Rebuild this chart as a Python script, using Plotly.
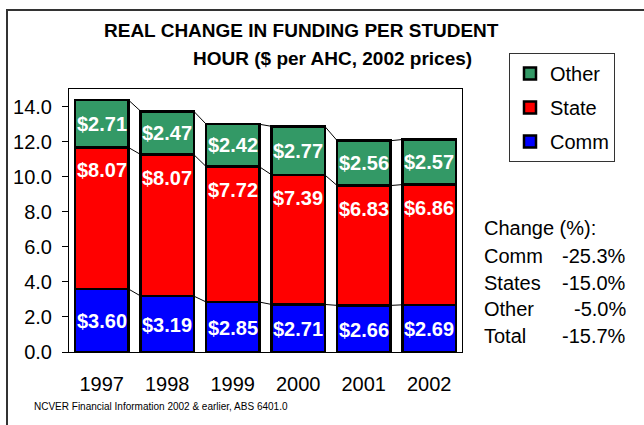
import plotly.graph_objects as go

years = ["1997", "1998", "1999", "2000", "2001", "2002"]
comm = [3.60, 3.19, 2.85, 2.71, 2.66, 2.69]
state = [8.07, 8.07, 7.72, 7.39, 6.83, 6.86]
other = [2.71, 2.47, 2.42, 2.77, 2.56, 2.57]
change_labels = ["Change (%):", "Comm", "States", "Other", "Total"]
change_values = ["", "-25.3%", "-15.0%", "-5.0%", "-15.7%"]

FONT = "Liberation Sans, Arial, sans-serif"
W, H = 644, 425
L, R, T, B = 69, 182, 89, 73
PW, PH = W - L - R, H - T - B

def px_x(x):
    return (x - L) / PW

def px_y(y):
    return (H - B - y) / PH

xs = list(range(len(years)))
bw = 0.81
c1 = comm
c2 = [a + b for a, b in zip(comm, state)]
c3 = [a + b + c for a, b, c in zip(comm, state, other)]

fig = go.Figure()
series = [("Comm", comm, "#0000FF", "g1", 3), ("State", state, "#FF0000", "g2", 2), ("Other", other, "#339966", "g3", 1)]
for name, vals, col, grp, rank in series:
    fig.add_trace(go.Bar(
        x=xs, y=vals, name=name, width=bw, legendgroup=grp, legendrank=rank,
        marker=dict(color=col, line=dict(color="black", width=2.5)),
        hoverinfo="skip",
    ))

# series lines connecting bars
for cum in (c1, c2, c3):
    lx, ly = [], []
    for i in range(len(xs) - 1):
        lx += [xs[i] + bw / 2, xs[i + 1] - bw / 2, None]
        ly += [cum[i], cum[i + 1], None]
    fig.add_trace(go.Scatter(x=lx, y=ly, mode="lines", line=dict(color="black", width=1),
                             showlegend=False, hoverinfo="skip"))

ann = []
lblfont = dict(family=FONT, size=20, color="white")
for i in xs:
    ann.append(dict(x=xs[i], y=comm[i] / 2, xref="x", yref="y", text="<b>$%.2f</b>" % comm[i],
                    showarrow=False, font=lblfont, yshift=-1))
    ann.append(dict(x=xs[i], y=c2[i], xref="x", yref="y", text="<b>$%.2f</b>" % state[i],
                    showarrow=False, font=lblfont, yshift=-23))
    ann.append(dict(x=xs[i], y=c2[i] + other[i] / 2, xref="x", yref="y", text="<b>$%.2f</b>" % other[i],
                    showarrow=False, font=lblfont))

# title lines
ann.append(dict(x=px_x(301), y=px_y(31), xref="paper", yref="paper", text="<b>REAL CHANGE IN FUNDING PER STUDENT</b>",
                showarrow=False, font=dict(family=FONT, size=19, color="black"), xanchor="center", yanchor="middle"))
ann.append(dict(x=px_x(332), y=px_y(59), xref="paper", yref="paper", text="<b>HOUR ($ per AHC, 2002 prices)</b>",
                showarrow=False, font=dict(family=FONT, size=19, color="black"), xanchor="center", yanchor="middle"))

# change table
ys_tab = [228, 256, 283, 309, 336]
for lab, val, yy in zip(change_labels, change_values, ys_tab):
    ann.append(dict(x=px_x(482), y=px_y(yy), xref="paper", yref="paper", text=lab, showarrow=False,
                    font=dict(family=FONT, size=20, color="black"), xanchor="left", yanchor="middle"))
    if val:
        ann.append(dict(x=px_x(628), y=px_y(yy), xref="paper", yref="paper", text=val, showarrow=False,
                        font=dict(family=FONT, size=20, color="black"), xanchor="right", yanchor="middle"))

ann.append(dict(x=px_x(32), y=px_y(406), xref="paper", yref="paper",
                text="NCVER Financial Information 2002 &amp; earlier, ABS 6401.0", showarrow=False,
                font=dict(family=FONT, size=10, color="black"), xanchor="left", yanchor="middle"))

shapes = [dict(type="rect", xref="paper", yref="paper", x0=px_x(7), y0=px_y(440), x1=px_x(660), y1=px_y(10),
               line=dict(color="#333333", width=2), layer="below")]

fig.update_layout(
    width=W, height=H,
    margin=dict(l=L, r=R, t=T, b=B, autoexpand=False),
    paper_bgcolor="white", plot_bgcolor="white",
    barmode="stack",
    font=dict(family=FONT, size=20, color="black"),
    showlegend=True,
    legend=dict(x=px_x(509), y=px_y(53), xanchor="left", yanchor="top",
                traceorder="grouped", tracegroupgap=5,
                bordercolor="#333333", borderwidth=1, bgcolor="white",
                font=dict(family=FONT, size=20, color="black"), itemwidth=30),
    xaxis=dict(range=[-0.5, 5.5], tickvals=xs, ticktext=years, showgrid=False, zeroline=False,
               showline=True, linecolor="black", linewidth=1, mirror=True, ticks="",
               ticklabelstandoff=14, tickfont=dict(size=20)),
    yaxis=dict(range=[0, 15], tickvals=[0, 2, 4, 6, 8, 10, 12, 14], tickformat=".1f", showgrid=False,
               zeroline=False, showline=True, linecolor="black", linewidth=1, mirror=True,
               ticks="outside", ticklen=6, tickcolor="black", ticklabelstandoff=6, tickfont=dict(size=20)),
    annotations=ann,
    shapes=shapes,
)

fig.write_html("out.html", config={"displayModeBar": False},
               post_script="document.body.style.margin='0px';")
